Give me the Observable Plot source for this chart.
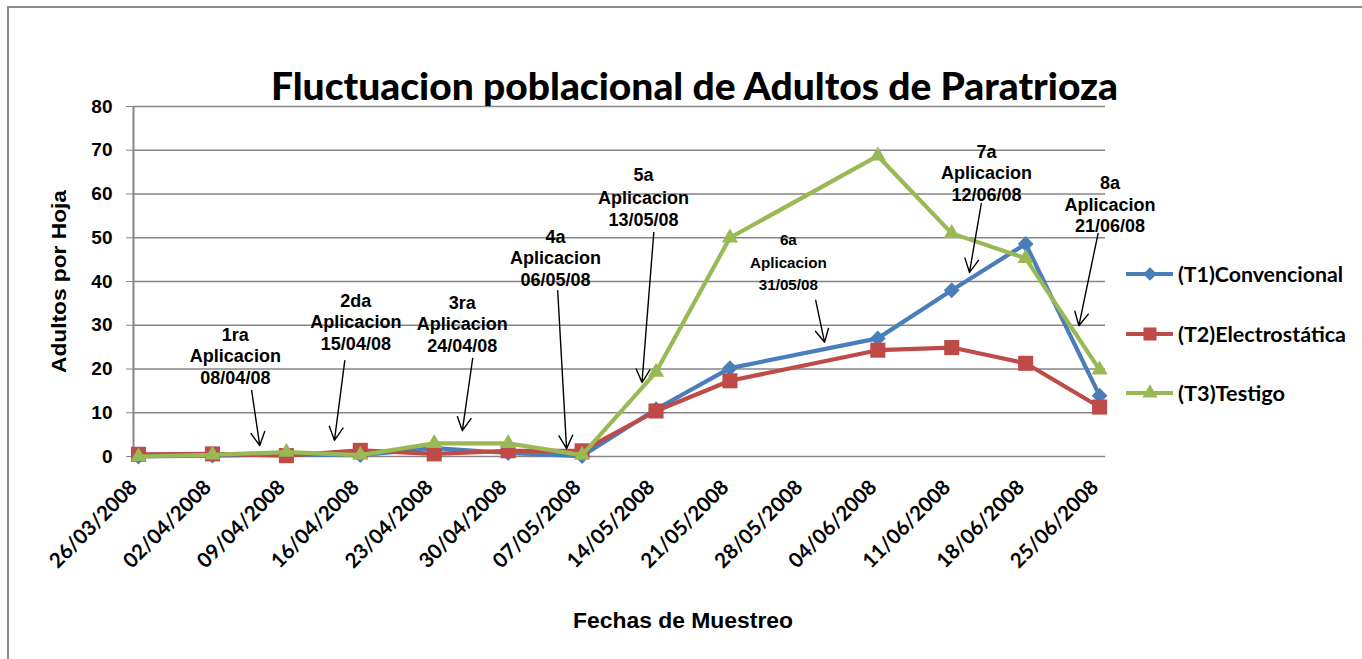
<!DOCTYPE html>
<html>
<head>
<meta charset="utf-8">
<script src="https://cdn.jsdelivr.net/npm/d3@7"></script>
<script src="https://cdn.jsdelivr.net/npm/@observablehq/plot@0.6"></script>
<style>
  html, body { margin: 0; padding: 0; background: #fff; overflow: hidden; }
  #wrap { position: relative; width: 1362px; height: 659px; }
  #border { position: absolute; left: 7px; top: 6px; width: 1400px; height: 700px;
            border-left: 2px solid #8c8c8c; border-top: 2px solid #8c8c8c; }
  #chart { position: absolute; left: 0; top: 0; }
</style>
</head>
<body>
<div id="wrap"><div id="border"></div><div id="chart"></div></div>
<script>
// ---- data ----
const dates = ["26/03/2008","02/04/2008","09/04/2008","16/04/2008","23/04/2008","30/04/2008","07/05/2008",
               "14/05/2008","21/05/2008","28/05/2008","04/06/2008","11/06/2008","18/06/2008","25/06/2008"];
const t1 = [0, 0.2, 0.5, 0.3, 1.9, 0.8, 0.1, 10.8, 20.2, null, 27.0, 38.0, 48.6, 13.9];
const t2 = [0.5, 0.6, 0.2, 1.4, 0.6, 1.3, 1.3, 10.4, 17.3, null, 24.3, 24.9, 21.3, 11.3];
const t3 = [0, 0.4, 1.0, 0.3, 3.0, 3.0, 0.3, 19.3, 50.0, null, 68.7, 51.0, 45.3, 19.8];
const seriesNames = ["(T1)Convencional", "(T2)Electrostática", "(T3)Testigo"];
const yTicks = [0, 10, 20, 30, 40, 50, 60, 70, 80];

const apLabels = ["1ra\nAplicacion\n08/04/08", "2da\nAplicacion\n15/04/08", "3ra\nAplicacion\n24/04/08",
                  "4a\nAplicacion\n06/05/08", "5a\nAplicacion\n13/05/08", "6a\nAplicacion\n31/05/08",
                  "7a\nAplicacion\n12/06/08", "8a\nAplicacion\n21/06/08"];
const apLabelX = [1.31, 2.94, 4.38, 5.64, 6.83, 8.79, 11.47, 13.14];
const apLabelY = [23.1, 30.9, 30.4, 45.5, 59.4, 44.8, 64.9, 57.8];
const arrowX1 = [1.53, 2.79, 4.52, 5.67, 6.97, 9.16, 11.40, 12.98];
const arrowY1 = [15.1, 21.9, 22.4, 37.9, 51.2, 35.7, 57.8, 51.0];
const arrowX2 = [1.64, 2.65, 4.38, 5.79, 6.81, 9.28, 11.24, 12.72];
const arrowY2 = [2.5, 3.7, 5.9, 1.8, 16.9, 26.1, 42.1, 29.9];

// ---- styles ----
const colors = ["#4a7ebb", "#be4b48", "#98b954"];
const symbols = ["diamond2", "square", "triangle"];
const symR = [7.1, 8.5, 6.0];
const apFont = [18, 18, 18, 18, 18, 15.2, 18, 18];
const apLead = [1.2, 1.2, 1.2, 1.2, 1.25, 1.48, 1.2, 1.2];

// ---- build tables ----
const allSeries = [t1, t2, t3];
const rows = allSeries.map((vals, s) =>
  vals.map((v, i) => ({i, v, s})).filter(d => d.v != null));
const annots = apLabels.map((label, k) => ({
  label, lx: apLabelX[k], ly: apLabelY[k],
  x1: arrowX1[k], y1: arrowY1[k], x2: arrowX2[k], y2: arrowY2[k], k
}));
const xDomain = [-0.068, dates.length - 1 + 0.08];

const AR = "Liberation Sans, Arial, sans-serif";
const CAL = "Lato, 'Open Sans', sans-serif";

const marks = [
  Plot.gridY(yTicks, {stroke: "#868686", strokeOpacity: 1, strokeWidth: 1.6}),
  Plot.ruleX([xDomain[0]], {stroke: "#868686", strokeWidth: 2}),
  Plot.axisY({ticks: yTicks, tickSize: 7, tickPadding: 14, stroke: "#868686", fill: "black",
              fontSize: 19, fontWeight: "bold", fontFamily: AR, label: null}),
  Plot.text(dates.map((d, i) => i), {x: d => d, frameAnchor: "bottom", text: i => dates[i],
              rotate: -45, textAnchor: "end", dy: 32, fontSize: 20.5, fontWeight: "bold", fontFamily: CAL, fill: "black"})
];
rows.forEach((r, s) => {
  marks.push(Plot.line(r, {x: "i", y: "v", stroke: colors[s], strokeWidth: 4.2}));
  marks.push(Plot.dot(r, {x: "i", y: "v", symbol: symbols[s], r: symR[s], fill: colors[s], stroke: "none"}));
});
marks.push(
  Plot.arrow(annots, {x1: "x1", y1: "y1", x2: "x2", y2: "y2", stroke: "black", strokeWidth: 1.4,
                      headLength: 16, headAngle: 55})
);
annots.forEach(a => {
  marks.push(Plot.text([a], {x: "lx", y: "ly", text: "label", fontSize: apFont[a.k], lineHeight: apLead[a.k],
                      fontWeight: "bold", fontFamily: AR, fill: "black"}));
});

const svg = Plot.plot({
  width: 1362, height: 659,
  marginLeft: 133, marginRight: 257, marginTop: 106, marginBottom: 203,
  style: {background: "transparent", overflow: "visible"},
  x: {type: "linear", domain: xDomain, axis: null},
  y: {domain: [0, 80], axis: null},
  marks
});
document.getElementById("chart").appendChild(svg);

// ---- titles and legend ----
const g = d3.select(svg).append("g");
g.append("text").attr("x", 694.5).attr("y", 100).attr("text-anchor", "middle")
  .attr("font-family", CAL).attr("font-weight", "900").attr("font-size", 37)
  .attr("textLength", 847).attr("lengthAdjust", "spacingAndGlyphs")
  .attr("fill", "black").text("Fluctuacion poblacional de Adultos de Paratrioza");
g.append("text").attr("x", 683).attr("y", 628).attr("text-anchor", "middle")
  .attr("font-family", AR).attr("font-weight", "bold").attr("font-size", 22)
  .attr("textLength", 220).attr("lengthAdjust", "spacingAndGlyphs")
  .attr("fill", "black").text("Fechas de Muestreo");
g.append("text").attr("transform", "translate(66,281.5) rotate(-90)").attr("text-anchor", "middle")
  .attr("font-family", AR).attr("font-weight", "bold").attr("font-size", 21)
  .attr("textLength", 183).attr("lengthAdjust", "spacingAndGlyphs")
  .attr("fill", "black").text("Adultos por Hoja");

const legY = [274, 334, 393];
const legSym = [d3.symbolDiamond2, d3.symbolSquare, d3.symbolTriangle];
const legSize = [120, 170, 100];
const legW = [165, 168, 107];
seriesNames.forEach((name, s) => {
  const lg = g.append("g").attr("transform", `translate(0,${legY[s]})`);
  lg.append("line").attr("x1", 1126).attr("x2", 1173).attr("y1", 0).attr("y2", 0)
    .attr("stroke", colors[s]).attr("stroke-width", 4.2);
  lg.append("path").attr("transform", "translate(1150,0)")
    .attr("d", d3.symbol().type(legSym[s]).size(legSize[s])()).attr("fill", colors[s]);
  lg.append("text").attr("x", 1178).attr("y", 0).attr("dy", "0.36em").attr("text-anchor", "start")
    .attr("font-family", CAL).attr("font-weight", "bold").attr("font-size", 21)
    .attr("textLength", legW[s]).attr("lengthAdjust", "spacingAndGlyphs")
    .attr("fill", "black").text(name);
});
</script>
</body>
</html>
